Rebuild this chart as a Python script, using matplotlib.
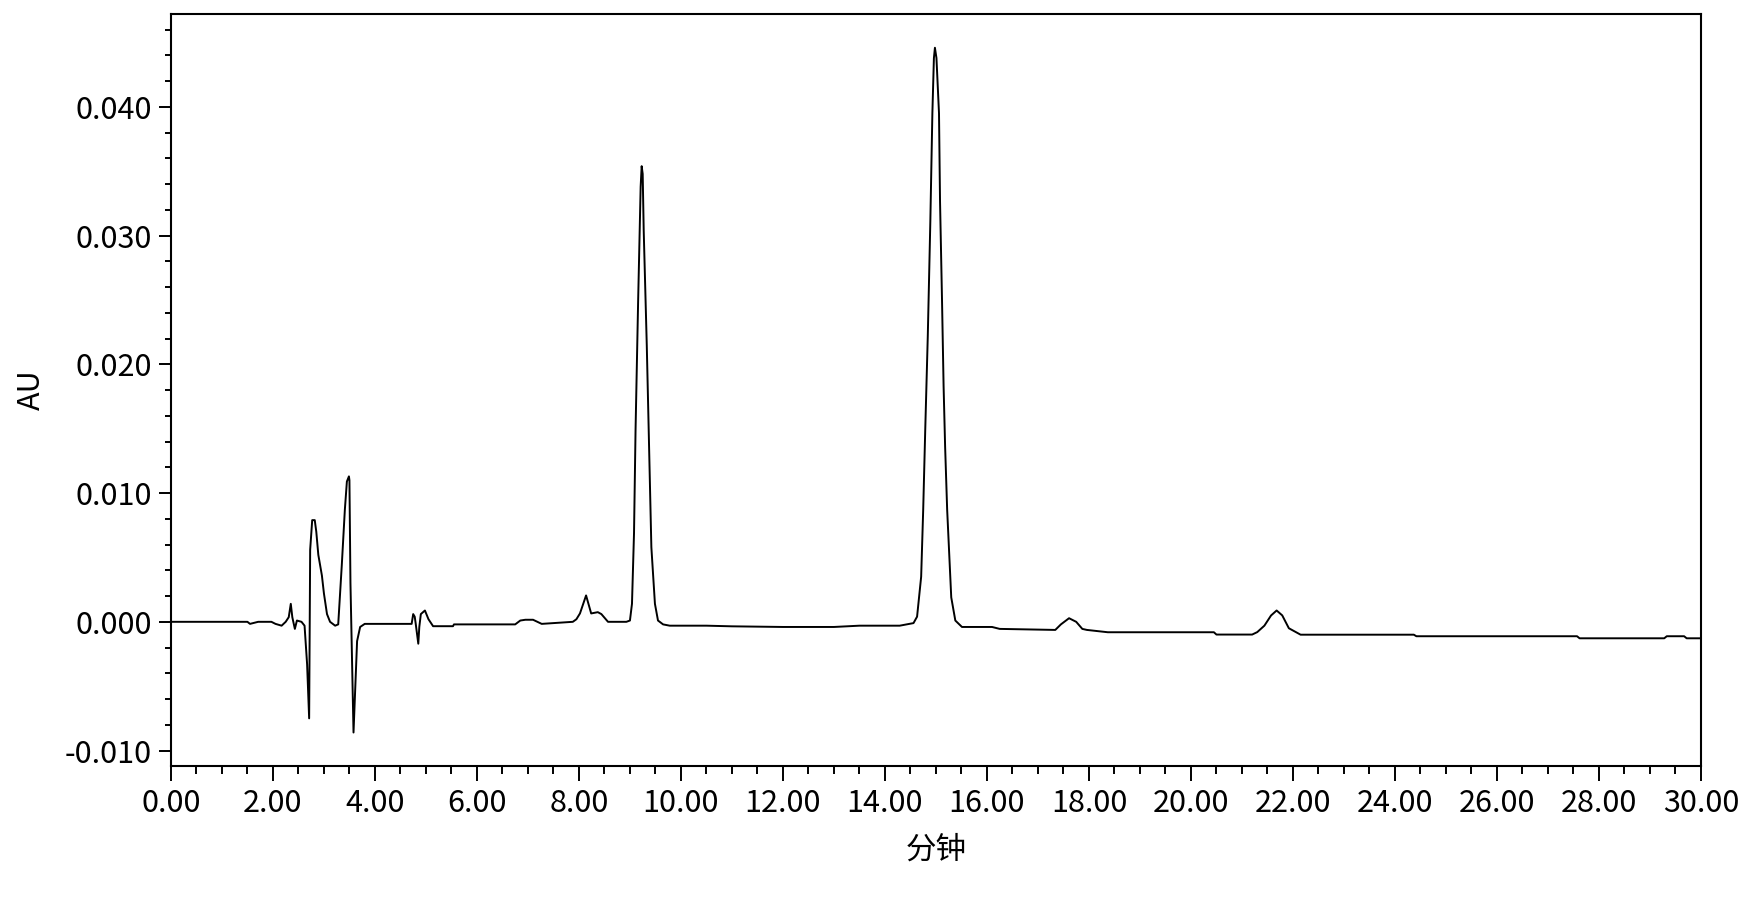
import numpy as np
import matplotlib
matplotlib.use("Agg")
import matplotlib.pyplot as plt
from matplotlib.ticker import MultipleLocator

plt.rcParams['font.family'] = ['Noto Sans CJK SC', 'DejaVu Sans']

# --- Chromatogram trace (minutes, AU) ---
time_min = [
    0.00, 1.50, 1.55, 1.71, 1.97, 2.05, 2.17, 2.25, 2.31, 2.35, 2.38, 2.43,
    2.47, 2.56, 2.62, 2.67, 2.71, 2.73, 2.77, 2.82, 2.85, 2.89, 2.96, 3.00,
    3.06, 3.12, 3.22, 3.28, 3.35, 3.41, 3.45, 3.49, 3.50, 3.52, 3.56, 3.58,
    3.62, 3.65, 3.71, 3.80, 4.72, 4.75, 4.78, 4.80, 4.85, 4.87, 4.90, 4.98,
    5.05, 5.14, 5.53, 5.55, 6.75, 6.85, 6.95, 7.10, 7.27, 7.88, 7.95, 8.02,
    8.14, 8.24, 8.30, 8.37, 8.44, 8.57, 8.93, 9.00, 9.04, 9.08, 9.11, 9.16,
    9.21, 9.23, 9.25, 9.27, 9.33, 9.38, 9.42, 9.49, 9.55, 9.65, 9.78, 10.50,
    11.00, 12.00, 13.00, 13.50, 14.29, 14.56, 14.63, 14.71, 14.75, 14.79,
    14.84, 14.89, 14.93, 14.96, 14.98, 15.01, 15.06, 15.08, 15.12, 15.15,
    15.18, 15.22, 15.26, 15.30, 15.38, 15.51, 16.10, 16.25, 17.34, 17.45,
    17.61, 17.75, 17.87, 17.96, 18.37, 20.45, 20.50, 21.20, 21.30, 21.44,
    21.57, 21.68, 21.79, 21.92, 22.15, 24.37, 24.42, 27.57, 27.62, 29.28,
    29.33, 29.67, 29.72, 30.00,
]
absorbance = [
    0.0000, 0.0000, -0.00016, 0.0000, 0.0000, -0.00016, -0.0003, 0.0000,
    0.00036, 0.0014, 0.00036, -0.00055, 0.0001, 0.0000, -0.0003, -0.0033,
    -0.0075, 0.0056, 0.0079, 0.0079, 0.0070, 0.0052, 0.0036, 0.0022,
    0.0006, 0.0000, -0.0003, -0.0002, 0.0044, 0.0087, 0.0109, 0.0113,
    0.0110, 0.0030, -0.0046, -0.0086, -0.0046, -0.0015, -0.0004, -0.00016,
    -0.00016, 0.0006, 0.0004, -0.00016, -0.0017, -0.0004, 0.0006, 0.00088,
    0.0002, -0.00034, -0.00034, -0.0002, -0.0002, 0.0001, 0.00016, 0.00016,
    -0.00016, 0.0000, 0.0002, 0.00065, 0.00205, 0.00065, 0.0007, 0.00075,
    0.0006, 0.0000, 0.0000, 0.0001, 0.0014, 0.0069, 0.0149, 0.0248,
    0.0338, 0.0354, 0.0348, 0.0304, 0.0215, 0.0129, 0.0058, 0.0014,
    0.0001, -0.0002, -0.0003, -0.0003, -0.00035, -0.0004, -0.0004, -0.0003,
    -0.0003, -0.0001, 0.0004, 0.0035, 0.0087, 0.0149, 0.0222, 0.0311,
    0.0395, 0.0438, 0.0446, 0.0438, 0.0395, 0.0327, 0.0248, 0.0183,
    0.0136, 0.0087, 0.0053, 0.0019, 0.0001, -0.0004, -0.0004, -0.00055,
    -0.00063, -0.0002, 0.00028, 0.0000, -0.00055, -0.00063, -0.00081, -0.00081,
    -0.00099, -0.00099, -0.0008, -0.0003, 0.00049, 0.00088, 0.0005, -0.0005,
    -0.0010, -0.0010, -0.00112, -0.00112, -0.00128, -0.00128, -0.00112, -0.00112,
    -0.00128, -0.00128,
]

x_ticks = list(range(0, 31, 2))
x_tick_labels = [f"{v:.2f}" for v in x_ticks]
y_ticks = [-0.010, 0.000, 0.010, 0.020, 0.030, 0.040]
y_tick_labels = ["-0.010", "0.000", "0.010", "0.020", "0.030", "0.040"]

fig = plt.figure(figsize=(17.46, 9.05), dpi=100)
ax = fig.add_axes([0.0979, 0.1539, 0.8763, 0.8306])

ax.plot(time_min, absorbance, color='black', lw=1.4)

ax.set_xlim(0, 30)
ax.set_ylim(-0.01118, 0.04722)

ax.set_xticks(x_ticks)
ax.set_xticklabels(x_tick_labels)
ax.set_yticks(y_ticks)
ax.set_yticklabels(y_tick_labels)
ax.xaxis.set_minor_locator(MultipleLocator(0.5))
ax.yaxis.set_minor_locator(MultipleLocator(0.002))

ax.tick_params(axis='both', which='both', direction='out', width=1.4,
               labelsize=22, top=False, right=False)
ax.tick_params(axis='x', which='major', length=11, pad=5)
ax.tick_params(axis='x', which='minor', length=6)
ax.tick_params(axis='y', which='major', length=8.5, pad=5)
ax.tick_params(axis='y', which='minor', length=4.5)

for sp in ax.spines.values():
    sp.set_linewidth(1.5)

ax.set_xlabel('分钟', fontsize=22, labelpad=11)
ax.set_ylabel('AU', fontsize=22, labelpad=13)

fig.savefig('out.png', dpi=100)
